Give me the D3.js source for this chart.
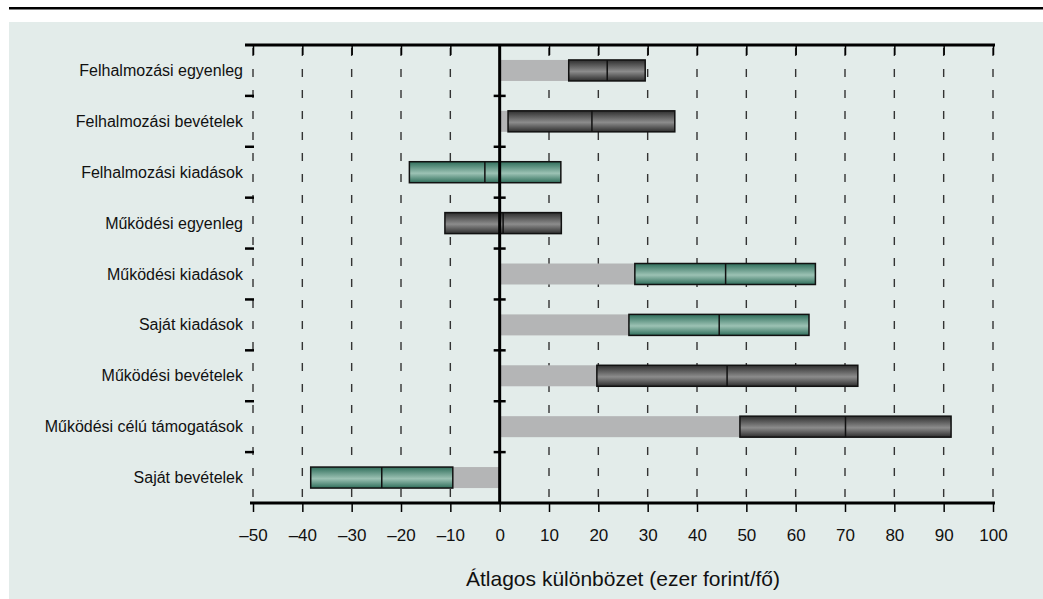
<!DOCTYPE html>
<html>
<head>
<meta charset="utf-8">
<script src="https://cdn.jsdelivr.net/npm/d3@7"></script>
<style>
  body { margin: 0; background: #fff; }
  svg { display: block; font-family: "Liberation Sans", Arial, sans-serif; }
</style>
</head>
<body>
<div id="chart"></div>
<script>
// categories, top to bottom
const categories = [
  "Felhalmozási egyenleg",
  "Felhalmozási bevételek",
  "Felhalmozási kiadások",
  "Működési egyenleg",
  "Működési kiadások",
  "Saját kiadások",
  "Működési bevételek",
  "Működési célú támogatások",
  "Saját bevételek"
];
// box: low end, middle line, high end (ezer forint/fő)
const lowValues = [14.0, 1.7, -18.3, -11.1, 27.4, 26.2, 19.7, 48.7, -38.3];
const midValues = [21.8, 18.7, -3.0, 0.7, 45.8, 44.5, 46.1, 70.1, -23.9];
const highValues = [29.5, 35.5, 12.4, 12.5, 64.0, 62.7, 72.6, 91.5, -9.5];
// which style each box uses
const boxKind = ["dark", "dark", "green", "dark", "green", "green", "dark", "dark", "green"];
const xTicks = d3.range(-50, 101, 10);

const width = 1043, height = 599;
const plotL = 253, plotR = 993, plotT = 45, plotB = 503;
const barH = 21;

const svg = d3.select("#chart").append("svg")
  .attr("width", width).attr("height", height);

// gradients for the boxes
const defs = svg.append("defs");
function grad(id, edge, mid) {
  const g = defs.append("linearGradient").attr("id", id)
    .attr("x1", 0).attr("y1", 0).attr("x2", 0).attr("y2", 1);
  g.append("stop").attr("offset", "0%").attr("stop-color", edge);
  g.append("stop").attr("offset", "55%").attr("stop-color", mid);
  g.append("stop").attr("offset", "100%").attr("stop-color", edge);
}
grad("gGreen", "#2f6e5b", "#9cc2b4");
grad("gDark", "#2e2e2e", "#8c8c8c");

// top rule and panel
svg.append("rect").attr("x", 9).attr("y", 7).attr("width", width - 9).attr("height", 2.5).attr("fill", "#000");
svg.append("rect").attr("x", 9).attr("y", 22).attr("width", width - 9).attr("height", height - 22).attr("fill", "#e3ecea");

const x = d3.scaleLinear().domain([-50, 100]).range([plotL, plotR]);
const y = d3.scaleBand().domain(categories).range([plotT, plotB]).padding(0);

// dashed grid
svg.append("g").selectAll("line")
  .data(xTicks.filter(d => d !== 0))
  .join("line")
  .attr("x1", d => x(d)).attr("x2", d => x(d))
  .attr("y1", plotT).attr("y2", plotB)
  .attr("stroke", "#333").attr("stroke-width", 1.4)
  .attr("stroke-dasharray", "8,13")
  .attr("stroke-dashoffset", -3);

// gray base bars from zero to the box
const rows = categories.map((c, i) => ({
  cat: c, lo: lowValues[i], mid: midValues[i], hi: highValues[i], kind: boxKind[i]
}));

svg.append("g").selectAll("rect")
  .data(rows.filter(d => d.lo > 0 || d.hi < 0))
  .join("rect")
  .attr("x", d => d.lo > 0 ? x(0) : x(d.hi))
  .attr("width", d => d.lo > 0 ? x(d.lo) - x(0) : x(0) - x(d.hi))
  .attr("y", d => y(d.cat) + y.bandwidth() / 2 - barH / 2)
  .attr("height", barH)
  .attr("fill", "#b4b5b6");

// boxes
const boxes = svg.append("g").selectAll("g")
  .data(rows)
  .join("g");

boxes.append("rect")
  .attr("x", d => x(d.lo))
  .attr("width", d => x(d.hi) - x(d.lo))
  .attr("y", d => y(d.cat) + y.bandwidth() / 2 - barH / 2)
  .attr("height", barH)
  .attr("fill", d => d.kind === "green" ? "url(#gGreen)" : "url(#gDark)")
  .attr("stroke", "#111").attr("stroke-width", 1.5);

boxes.append("line")
  .attr("x1", d => x(d.mid)).attr("x2", d => x(d.mid))
  .attr("y1", d => y(d.cat) + y.bandwidth() / 2 - barH / 2)
  .attr("y2", d => y(d.cat) + y.bandwidth() / 2 + barH / 2)
  .attr("stroke", "#111").attr("stroke-width", 1.5);

// zero line
svg.append("line")
  .attr("x1", x(0)).attr("x2", x(0)).attr("y1", plotT).attr("y2", plotB)
  .attr("stroke", "#000").attr("stroke-width", 3);

// row boundary ticks on the zero line and on the left edge
const bounds = categories.slice(1).map(c => y(c));
svg.append("g").selectAll("line")
  .data(bounds)
  .join("line")
  .attr("x1", x(0) - 6).attr("x2", x(0) + 6)
  .attr("y1", d => d).attr("y2", d => d)
  .attr("stroke", "#000").attr("stroke-width", 2.5);
svg.append("g").selectAll("line")
  .data(bounds)
  .join("line")
  .attr("x1", plotL - 8).attr("x2", plotL + 1)
  .attr("y1", d => d).attr("y2", d => d)
  .attr("stroke", "#000").attr("stroke-width", 2.5);

// top axis
const topAxis = svg.append("g").attr("transform", `translate(0,${plotT})`)
  .call(d3.axisBottom(x).tickValues(xTicks).tickSize(10).tickFormat(""));
topAxis.select(".domain").attr("stroke-width", 3).attr("d", `M${plotL - 8},0H${plotR + 2}`);
topAxis.selectAll(".tick line").attr("stroke-width", 1.5);

// bottom axis
const fmt = d => d < 0 ? "\u2013" + Math.abs(d) : String(d);
const botAxis = svg.append("g").attr("transform", `translate(0,${plotB})`)
  .call(d3.axisBottom(x).tickValues(xTicks).tickSize(9).tickPadding(17).tickFormat(fmt));
botAxis.select(".domain").attr("stroke-width", 3).attr("d", `M${plotL - 3},0H${plotR + 2}`);
botAxis.selectAll(".tick line").attr("stroke-width", 1.5);
botAxis.selectAll(".tick text")
  .attr("font-family", "Liberation Sans, Arial, sans-serif")
  .attr("font-size", 17).attr("fill", "#111");

// category labels
svg.append("g").selectAll("text")
  .data(categories)
  .join("text")
  .attr("x", 243)
  .attr("y", d => y(d) + y.bandwidth() / 2)
  .attr("dy", "0.35em")
  .attr("text-anchor", "end")
  .attr("font-size", 16)
  .attr("fill", "#111")
  .text(d => d);

// axis title
svg.append("text")
  .attr("x", 623).attr("y", 586)
  .attr("text-anchor", "middle")
  .attr("font-size", 21)
  .attr("fill", "#111")
  .text("Átlagos különbözet (ezer forint/fő)");
</script>
</body>
</html>
